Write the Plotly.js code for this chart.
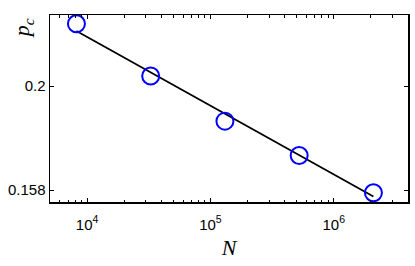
<!DOCTYPE html>
<html>
<head>
<meta charset="utf-8">
<script src="https://cdn.plot.ly/plotly-3.0.1.min.js"></script>
<style>html,body{margin:0;padding:0;background:#fff;}#chart{width:415px;height:266px;}</style>
</head>
<body>
<div id="chart"></div>
<script>
// Data
const sizeN = [8192, 32768, 131072, 524288, 2097152];
const pc = [0.2289, 0.2040, 0.1846, 0.1711, 0.1576];
const fitN = [8192, 2097152];
const fitPc = [0.2253, 0.1563];
const yTickVals = [0.1585, 0.1995];
const yTickText = ['0.158', '0.2'];
const xTickVals = [1e4, 1e5, 1e6];
const xTickText = ['10<sup>4</sup>', '10<sup>5</sup>', '10<sup>6</sup>'];
const xMinorVals = [6000, 7000, 8000, 9000,
  20000, 30000, 40000, 50000, 60000, 70000, 80000, 90000,
  200000, 300000, 400000, 500000, 600000, 700000, 800000, 900000,
  2000000, 3000000];

const xr = [Math.log10(5000), Math.log10(4e6)];

const traces = [
  {x: fitN, y: fitPc, xaxis: 'x2', mode: 'lines', line: {color: 'rgba(0,0,0,0)', width: 0}, hoverinfo: 'skip'},
  {x: fitN, y: fitPc, mode: 'lines', line: {color: '#000', width: 1.8}, hoverinfo: 'skip'},
  {x: sizeN, y: pc, mode: 'markers',
   marker: {symbol: 'circle-open', size: 17, color: '#0000ff', line: {color: '#0000ff', width: 2}}}
];

const layout = {
  width: 415, height: 266,
  margin: {l: 50, r: 7, t: 15, b: 64},
  showlegend: false,
  paper_bgcolor: '#fff', plot_bgcolor: '#fff',
  font: {family: 'Liberation Sans, Arial, sans-serif', size: 15, color: '#000'},
  xaxis: {
    type: 'log', range: xr,
    tickvals: xTickVals, ticktext: xTickText,
    ticks: 'inside', ticklen: 4, tickcolor: '#000',
    ticklabelstandoff: 8,
    showline: true, linecolor: '#000', linewidth: 1.5, mirror: 'ticks',
    showgrid: false, zeroline: false,
    title: {text: '<i>N</i>', font: {family: 'Liberation Serif, Times New Roman, serif', size: 22}, standoff: 8}
  },
  xaxis2: {
    type: 'log', range: xr, overlaying: 'x', anchor: 'y', side: 'bottom',
    tickvals: xMinorVals, ticktext: xMinorVals.map(() => ''),
    ticks: 'inside', ticklen: 2.5, tickcolor: '#000', tickwidth: 1,
    showline: false, mirror: 'ticks', showgrid: false, zeroline: false
  },
  yaxis: {
    type: 'log', range: [Math.log10(0.1544), Math.log10(0.2334)],
    tickvals: yTickVals, ticktext: yTickText,
    ticks: 'inside', ticklen: 4, tickcolor: '#000',
    showline: true, linecolor: '#000', linewidth: 1.5, mirror: 'ticks',
    showgrid: false, zeroline: false
  },
  annotations: [{
    text: '<i>p</i><sub><i>c</i></sub>', xref: 'paper', yref: 'paper',
    x: -0.075, y: 0.93, xanchor: 'center', yanchor: 'middle', textangle: -90, showarrow: false,
    font: {family: 'Liberation Serif, Times New Roman, serif', size: 22}
  }]
};

Plotly.newPlot('chart', traces, layout, {displayModeBar: false, staticPlot: true});
</script>
</body>
</html>
